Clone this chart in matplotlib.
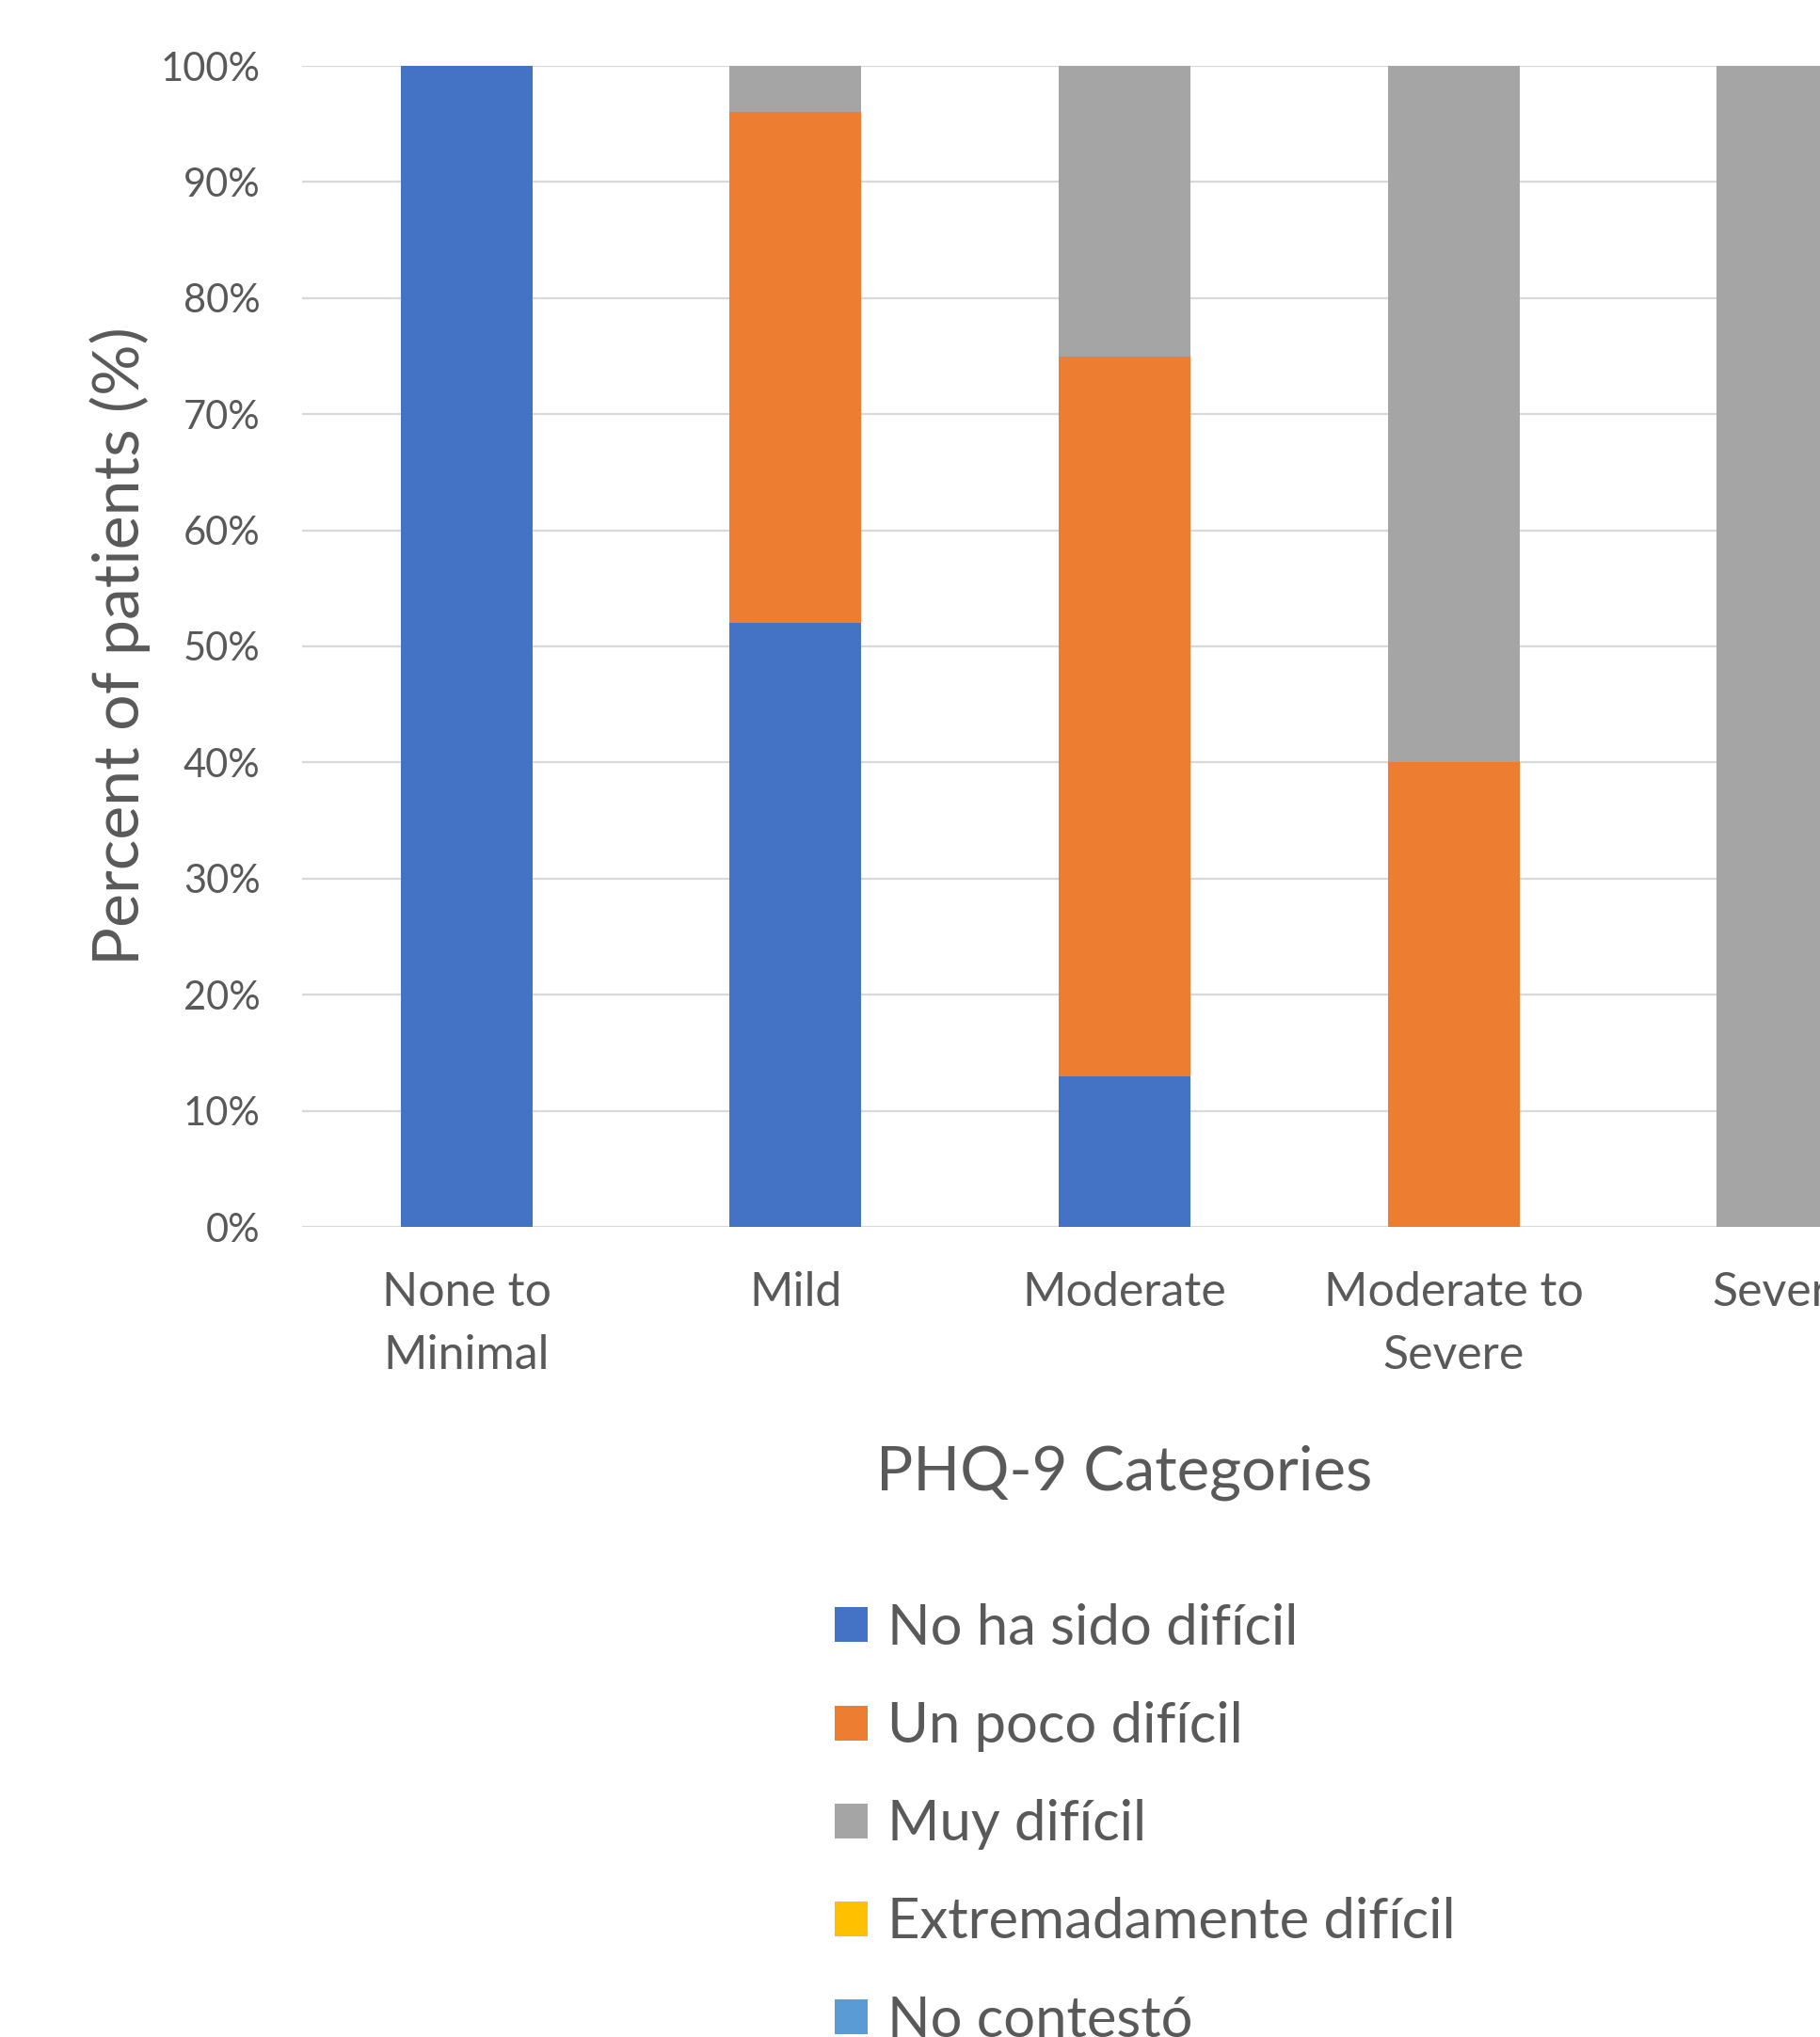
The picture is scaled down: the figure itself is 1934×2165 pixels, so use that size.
import numpy as np
import matplotlib
matplotlib.use("Agg")
import matplotlib.pyplot as plt
from matplotlib.ticker import PercentFormatter

# data (percent of patients per PHQ-9 group)
categories = ["None to\nMinimal", "Mild", "Moderate", "Moderate to\nSevere", "Severe"]
series_names = ["No ha sido difícil", "Un poco difícil", "Muy difícil",
                "Extremadamente difícil", "No contestó"]
no_ha_sido = [100, 52, 13, 0, 0]
un_poco = [0, 44, 62, 40, 0]
muy = [0, 4, 25, 60, 100]
extremadamente = [0, 0, 0, 0, 0]
no_contesto = [0, 0, 0, 0, 0]
colors = ["#4472C4", "#ED7D31", "#A5A5A5", "#FFC000", "#5B9BD5"]

plt.rcParams['font.family'] = ['Lato', 'DejaVu Sans']
text_color = "#595959"

W, H = 1934, 2165
fig = plt.figure(figsize=(W / 100, H / 100), dpi=100)
# axes runs past the right edge, like the cropped original
ax = fig.add_axes([321 / W, 1 - 1304 / H, 1748 / W, 1234 / H])

x = np.arange(len(categories))
bottom = np.zeros(len(categories))
for name, vals, c in zip(series_names,
                         [no_ha_sido, un_poco, muy, extremadamente, no_contesto],
                         colors):
    ax.bar(x, vals, 0.4, bottom=bottom, color=c, label=name, zorder=3)
    bottom += np.array(vals)

ax.set_xlim(-0.5, 4.5)
ax.set_ylim(0, 100)
ax.set_yticks(np.arange(0, 101, 10))
ax.yaxis.set_major_formatter(PercentFormatter(decimals=0))
ax.set_xticks(x)
ax.set_xticklabels(categories, linespacing=1.55)
ax.grid(axis="y", color="#D9D9D9", linewidth=1.6, zorder=0)
for s in ax.spines.values():
    s.set_visible(False)
ax.tick_params(axis="y", length=0, pad=32, labelsize=30, labelcolor=text_color)
ax.tick_params(axis="x", length=0, pad=34, labelsize=36, labelcolor=text_color)

ax.set_ylabel("Percent of patients (%)", fontsize=49, color=text_color)
ax.yaxis.set_label_coords(-0.092, 0.5)
ax.set_xlabel("PHQ-9 Categories", fontsize=47, color=text_color)
ax.xaxis.set_label_coords((1195 - 321) / 1748, -0.188)

leg = ax.legend(loc="upper left", bbox_to_anchor=(887 / W, 1 - 1704 / H),
                bbox_transform=fig.transFigure, frameon=False, fontsize=43,
                handlelength=0.58, handleheight=0.58, handletextpad=0.35,
                labelspacing=0.84, borderpad=0, borderaxespad=0)
for t in leg.get_texts():
    t.set_color(text_color)

fig.savefig("out.png", dpi=100)
